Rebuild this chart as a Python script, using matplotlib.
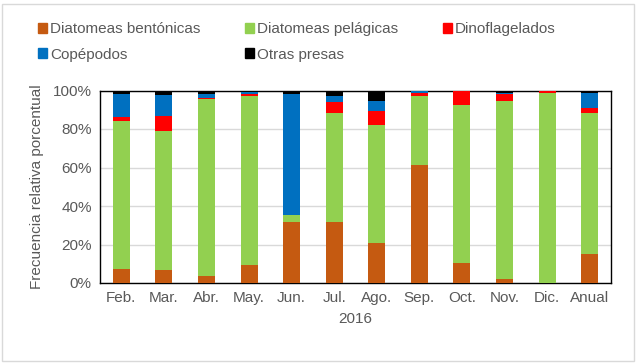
import numpy as np
import matplotlib.pyplot as plt
from matplotlib.patches import Rectangle, Patch

plt.rcParams['font.family'] = ['Liberation Sans', 'DejaVu Sans']

meses = ['Feb.', 'Mar.', 'Abr.', 'May.', 'Jun.', 'Jul.', 'Ago.', 'Sep.', 'Oct.', 'Nov.', 'Dic.', 'Anual']
bentonicas = [7.5, 6.5, 3.5, 9.5, 31.5, 31.5, 21.0, 61.5, 10.5, 2.0, 0.0, 15.0]
pelagicas = [76.5, 72.5, 92.0, 87.5, 4.0, 57.0, 61.0, 35.5, 82.0, 92.5, 98.8, 73.5]
dinoflag = [2.0, 7.5, 0.8, 1.0, 0.0, 5.5, 7.5, 1.5, 7.0, 3.5, 0.7, 2.5]
copepodos = [12.0, 11.0, 1.7, 1.0, 62.5, 3.0, 5.0, 1.2, 0.5, 0.8, 0.0, 7.5]
otras = [2.0, 2.5, 2.0, 1.0, 2.0, 3.0, 5.5, 0.3, 0.0, 1.2, 0.5, 1.5]

series = [bentonicas, pelagicas, dinoflag, copepodos, otras]
nombres = ['Diatomeas bentónicas', 'Diatomeas pelágicas', 'Dinoflagelados', 'Copépodos', 'Otras presas']
colores = ['#C55A11', '#92D050', '#FF0000', '#0070C0', '#000000']
gris = '#595959'

fig = plt.figure(figsize=(6.36, 3.63), dpi=100)
ax = fig.add_axes([100 / 636, 1 - 283 / 363, 511 / 636, 192.5 / 363])

x = np.arange(len(meses))
base = np.zeros(len(meses))
for vals, c in zip(series, colores):
    ax.bar(x, vals, bottom=base, width=0.4, color=c, zorder=3, linewidth=0)
    base += np.array(vals)

ax.set_xlim(-0.5, len(meses) - 0.5)
ax.set_ylim(0, 100)
ax.set_yticks(np.arange(0, 101, 20))
ax.set_yticklabels([f'{v}%' for v in range(0, 101, 20)], fontsize=11, color=gris)
ax.set_xticks(x)
ax.set_xticklabels(meses, fontsize=11, color=gris)
ax.tick_params(length=0, pad=6)
ax.grid(axis='y', color='#d9d9d9', linewidth=1, zorder=0)
for s in ax.spines.values():
    s.set_color('black')
    s.set_linewidth(1.0)
    s.set_zorder(2)
ax.set_xlabel('2016', fontsize=11, color=gris, labelpad=5)
ax.set_ylabel('Frecuencia relativa porcentual', fontsize=11, color=gris, labelpad=6)

handles = [Patch(color=c) for c in colores]
order = [0, 3, 1, 4, 2]
fig.legend([handles[i] for i in order], [nombres[i] for i in order],
           ncol=3, loc='upper left', bbox_to_anchor=(26 / 636, 1 - 10 / 363),
           frameon=False, fontsize=11, handlelength=0.6, handleheight=0.6,
           handletextpad=0.2, columnspacing=2.9, labelspacing=0.75,
           labelcolor=gris, borderpad=0.3)

fig.patches.append(Rectangle((2 / 636, 2 / 363), 632 / 636, 357 / 363, transform=fig.transFigure,
                             fill=False, edgecolor='#d9d9d9', linewidth=1))

fig.savefig('out.png', dpi=100)
